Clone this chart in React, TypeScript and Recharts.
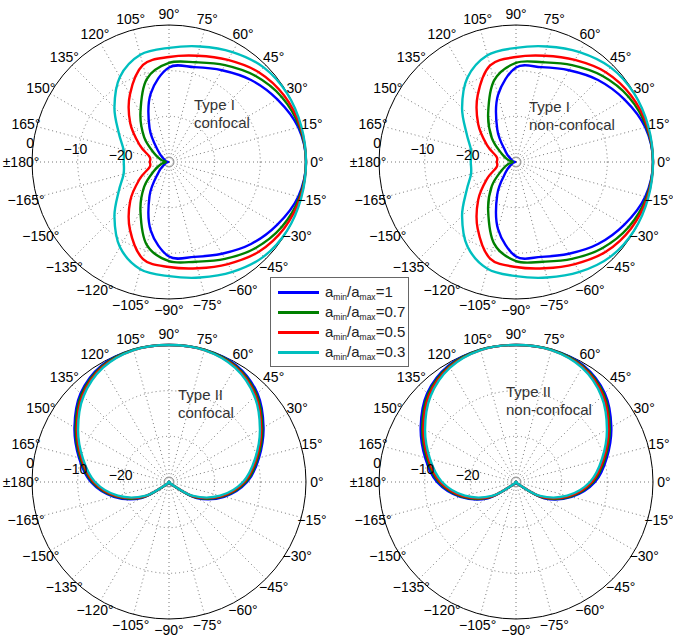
import React from 'react';
import { RadarChart, Radar, PolarGrid, PolarAngleAxis, PolarRadiusAxis } from 'recharts';

// angle categories, counter-clockwise from 0°
const angleLabels = [
  '0°', '15°', '30°', '45°', '60°', '75°', '90°', '105°', '120°', '135°', '150°', '165°',
  '±180°', '−165°', '−150°', '−135°', '−120°', '−105°', '−90°', '−75°', '−60°', '−45°', '−30°', '−15°',
];

const ratioLabels = ['1', '0.7', '0.5', '0.3'];
const colors = ['#0000ff', '#008000', '#ff0000', '#00bfbf'];

// gain in dB, one value per angle above
const typeIConfBlue = [0, -0.7, -2.6, -4.6, -6.8, -8.5, -9.3, -14.5, -21.5, -26.7, -28.7, -29.3, -29.8, -29.3, -28.7, -26.7, -21.5, -14.5, -9.3, -8.5, -6.8, -4.6, -2.6, -0.7];
const typeIConfGreen = [0, -0.4, -1.5, -3.3, -5.5, -7.4, -8.3, -11.2, -17.5, -22.3, -26.3, -28.2, -29.3, -28.2, -26.3, -22.3, -17.5, -11.2, -8.3, -7.4, -5.5, -3.3, -1.5, -0.4];
const typeIConfRed = [0, -0.2, -0.9, -2.2, -4.2, -5.9, -7.0, -8.0, -12.9, -18.0, -22.6, -25.6, -25.8, -25.6, -22.6, -18.0, -12.9, -8.0, -7.0, -5.9, -4.2, -2.2, -0.9, -0.2];
const typeIConfCyan = [0, 0, -0.1, -0.7, -2.2, -3.8, -5.0, -5.7, -8.5, -13.1, -17.3, -19.7, -20.1, -19.7, -17.3, -13.1, -8.5, -5.7, -5.0, -3.8, -2.2, -0.7, -0.1, 0];

const typeINonBlue = [0, -0.7, -2.6, -4.6, -6.8, -8.5, -9.3, -14.8, -21.8, -26.8, -28.7, -29.3, -29.8, -29.3, -28.7, -26.8, -21.8, -14.8, -9.3, -8.5, -6.8, -4.6, -2.6, -0.7];
const typeINonGreen = [0, -0.4, -1.5, -3.3, -5.5, -7.4, -8.3, -11.5, -17.8, -22.5, -26.4, -28.2, -29.3, -28.2, -26.4, -22.5, -17.8, -11.5, -8.3, -7.4, -5.5, -3.3, -1.5, -0.4];
const typeINonRed = [0, -0.2, -0.9, -2.2, -4.2, -5.9, -7.0, -8.1, -13.2, -18.3, -22.7, -25.6, -25.8, -25.6, -22.7, -18.3, -13.2, -8.1, -7.0, -5.9, -4.2, -2.2, -0.9, -0.2];
const typeINonCyan = [0, 0, -0.1, -0.7, -2.2, -3.8, -5.0, -5.8, -8.7, -13.3, -17.5, -19.8, -20.1, -19.8, -17.5, -13.3, -8.7, -5.8, -5.0, -3.8, -2.2, -0.7, -0.1, 0];

const typeIIConfBlue = [-12.9, -9.6, -6.1, -2.6, -0.5, 0, 0, 0, -0.5, -2.6, -6.1, -9.6, -12.9, -17.5, -23.0, -29.2, -30, -30, -30, -30, -30, -29.2, -23.0, -17.5];
const typeIIConfGreen = [-13.2, -9.9, -6.4, -2.9, -0.7, 0, 0, 0, -0.7, -2.9, -6.4, -9.9, -13.2, -17.8, -23.3, -29.3, -30, -30, -30, -30, -30, -29.3, -23.3, -17.8];
const typeIIConfRed = [-13.5, -10.2, -6.7, -3.2, -0.9, -0.1, 0, -0.1, -0.9, -3.2, -6.7, -10.2, -13.5, -18.1, -23.6, -29.4, -30, -30, -30, -30, -30, -29.4, -23.6, -18.1];
const typeIIConfCyan = [-13.8, -10.5, -7.0, -3.5, -1.1, -0.1, 0, -0.1, -1.1, -3.5, -7.0, -10.5, -13.8, -18.4, -23.9, -29.5, -30, -30, -30, -30, -30, -29.5, -23.9, -18.4];

const typeIINonBlue = [-12.7, -9.4, -5.9, -2.5, -0.5, 0, 0, 0, -0.5, -2.5, -5.9, -9.4, -12.7, -17.4, -22.9, -29.2, -30, -30, -30, -30, -30, -29.2, -22.9, -17.4];
const typeIINonGreen = [-13.1, -9.8, -6.3, -2.8, -0.7, 0, 0, 0, -0.7, -2.8, -6.3, -9.8, -13.1, -17.7, -23.2, -29.3, -30, -30, -30, -30, -30, -29.3, -23.2, -17.7];
const typeIINonRed = [-13.4, -10.1, -6.6, -3.1, -0.9, -0.1, 0, -0.1, -0.9, -3.1, -6.6, -10.1, -13.4, -18.0, -23.5, -29.4, -30, -30, -30, -30, -30, -29.4, -23.5, -18.0];
const typeIINonCyan = [-13.8, -10.5, -7.0, -3.5, -1.1, -0.1, 0, -0.1, -1.1, -3.5, -7.0, -10.5, -13.8, -18.4, -23.9, -29.5, -30, -30, -30, -30, -30, -29.5, -23.9, -18.4];

const R = 137;
const FONT = '"Liberation Sans", Arial, Helvetica, sans-serif';

// closed catmull-rom through the radar points
function smoothPath(pts: { x: number; y: number }[]) {
  const n = pts.length;
  let d = `M${pts[0].x},${pts[0].y}`;
  for (let i = 0; i < n; i++) {
    const p0 = pts[(i - 1 + n) % n];
    const p1 = pts[i];
    const p2 = pts[(i + 1) % n];
    const p3 = pts[(i + 2) % n];
    const c1x = p1.x + (p2.x - p0.x) / 6;
    const c1y = p1.y + (p2.y - p0.y) / 6;
    const c2x = p2.x - (p3.x - p1.x) / 6;
    const c2y = p2.y - (p3.y - p1.y) / 6;
    d += ` C${c1x},${c1y} ${c2x},${c2y} ${p2.x},${p2.y}`;
  }
  return d + 'Z';
}

const SmoothShape = (props: any) => (
  <path d={smoothPath(props.points)} fill="none" stroke={props.stroke} strokeWidth={2.4} strokeLinejoin="round" />
);

// label each tick by the direction it actually sits at
const AngleTick = (p: any) => {
  const deg = (Math.atan2(p.cy - p.y, p.x - p.cx) * 180) / Math.PI;
  const idx = ((Math.round(deg / 15) % 24) + 24) % 24;
  return (
    <text x={p.x} y={p.y} textAnchor="middle" dominantBaseline="central" fontSize={14} fontFamily={FONT} fill="#000">
      {angleLabels[idx]}
    </text>
  );
};

const RadiusTick = (p: any) => {
  const v = p.payload.value;
  if (v <= -30) return <g />;
  return (
    <text x={p.x - 3} y={p.y - 1} textAnchor="middle" dominantBaseline="central" fontSize={14} fontFamily={FONT} fill="#000">
      {v === 0 ? '0' : '−' + Math.abs(v)}
    </text>
  );
};

function PolarPanel({ cx, cy, series, lines, textX, textY }: any) {
  const data = angleLabels.map((a, i) => ({
    angle: a,
    s0: series[0][i],
    s1: series[1][i],
    s2: series[2][i],
    s3: series[3][i],
  }));
  return (
    <>
      <div style={{ position: 'absolute', left: cx - 170, top: cy - 160 }}>
        {/* the band offset of the category axis puts points one step on, so start one step back */}
        <RadarChart
          width={340}
          height={320}
          cx={170}
          cy={160}
          innerRadius={0}
          outerRadius={R}
          startAngle={-15}
          endAngle={345}
          data={data}
          margin={{ top: 0, right: 0, bottom: 0, left: 0 }}
        >
          <PolarGrid gridType="circle" polarRadius={[45.7, 91.3]} stroke="#777" strokeDasharray="1 3" />
          <PolarGrid gridType="circle" polarRadius={[5]} radialLines={false} stroke="#999" />
          <PolarGrid gridType="circle" polarRadius={[R]} radialLines={false} stroke="#000" />
          <PolarAngleAxis dataKey="angle" axisLine={false} tickLine={false} tickSize={11} tick={AngleTick} />
          <PolarRadiusAxis angle={172.5} type="number" domain={[-30, 0]} tickCount={4} axisLine={false} tick={RadiusTick} />
          {colors.map((c, k) => (
            <Radar
              key={k}
              dataKey={'s' + k}
              stroke={c}
              fill="none"
              dot={false}
              isAnimationActive={false}
              shape={SmoothShape}
            />
          ))}
        </RadarChart>
      </div>
      <div
        style={{
          position: 'absolute',
          left: textX,
          top: textY,
          fontSize: 15,
          lineHeight: '18px',
          color: '#333',
          fontFamily: FONT,
          whiteSpace: 'nowrap',
        }}
      >
        {lines.map((l: string) => (
          <div key={l}>{l}</div>
        ))}
      </div>
    </>
  );
}

export default function App() {
  return (
    <div
      style={{
        position: 'absolute',
        left: 0,
        top: 0,
        width: 673,
        height: 639,
        overflow: 'hidden',
        background: '#fff',
        fontFamily: FONT,
      }}
    >
      <PolarPanel cx={168.5} cy={162} textX={194} textY={96}
        series={[typeIConfBlue, typeIConfGreen, typeIConfRed, typeIConfCyan]} lines={['Type I', 'confocal']} />
      <PolarPanel cx={515.5} cy={162} textX={529} textY={98}
        series={[typeINonBlue, typeINonGreen, typeINonRed, typeINonCyan]} lines={['Type I', 'non-confocal']} />
      <PolarPanel cx={169} cy={482} textX={178} textY={386}
        series={[typeIIConfBlue, typeIIConfGreen, typeIIConfRed, typeIIConfCyan]} lines={['Type II', 'confocal']} />
      <PolarPanel cx={515.5} cy={482} textX={506} textY={383}
        series={[typeIINonBlue, typeIINonGreen, typeIINonRed, typeIINonCyan]} lines={['Type II', 'non-confocal']} />

      <div
        style={{
          position: 'absolute',
          left: 270,
          top: 277,
          width: 139,
          height: 90,
          border: '1px solid #666',
          background: '#fff',
          boxSizing: 'border-box',
        }}
      >
        {ratioLabels.map((r, k) => (
          <div key={r} style={{ position: 'absolute', left: 0, top: 4 + k * 20, height: 20, width: 137 }}>
            <div style={{ position: 'absolute', left: 7, top: 9, width: 41, height: 2.5, background: colors[k] }} />
            <div style={{ position: 'absolute', left: 54, top: 0, fontSize: 15, lineHeight: '20px', color: '#222', whiteSpace: 'nowrap' }}>
              a<span style={{ fontSize: 8.5, verticalAlign: '-3px' }}>min</span>/a
              <span style={{ fontSize: 8.5, verticalAlign: '-3px' }}>max</span>={r}
            </div>
          </div>
        ))}
      </div>
    </div>
  );
}
